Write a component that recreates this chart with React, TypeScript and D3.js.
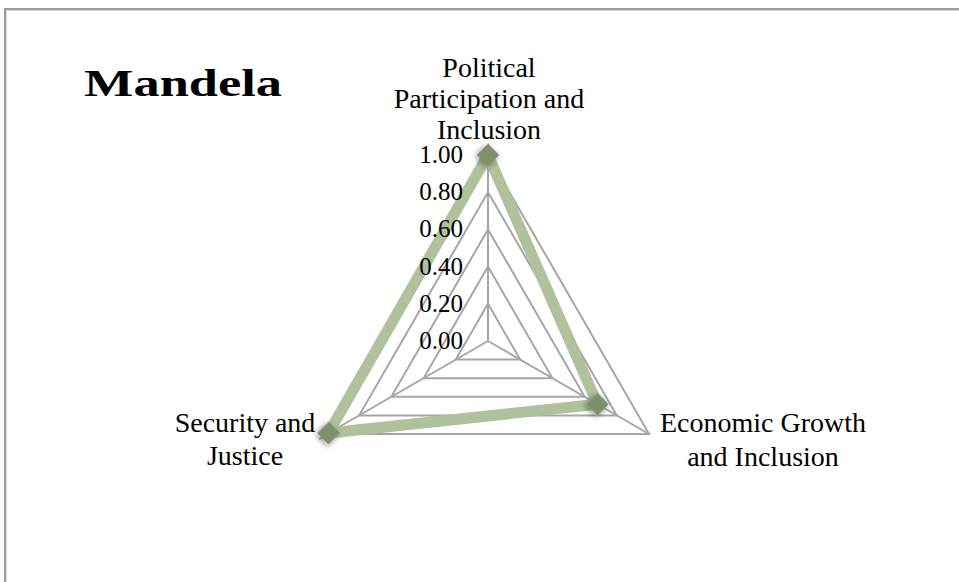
import React from "react";
import * as d3 from "d3";

const categories = ["Political Participation and Inclusion", "Economic Growth and Inclusion", "Security and Justice"];
const categoryLines = [["Political", "Participation and", "Inclusion"], ["Economic Growth", "and Inclusion"], ["Security and", "Justice"]];
const seriesValues = [1.0, 0.68, 0.99];
const tickValues = [0, 0.2, 0.4, 0.6, 0.8, 1.0];
const tickLabels = ["0.00", "0.20", "0.40", "0.60", "0.80", "1.00"];
const title = "Mandela";

const W = 959, H = 582;
const cx = 488, cy = 341;
const FONT = "'Liberation Serif', 'DejaVu Serif', serif";

export default function App() {
  const r = d3.scaleLinear().domain([0, 1]).range([0, 186]);
  const angle = d3.scaleLinear().domain([0, categories.length]).range([-Math.PI / 2, (3 * Math.PI) / 2]);
  const pt = (i: number, v: number): [number, number] => [
    cx + r(v) * Math.cos(angle(i)),
    cy + r(v) * Math.sin(angle(i)),
  ];
  const closed = d3.line().curve(d3.curveLinearClosed);
  const gridPaths = tickValues.slice(1).map((t) => closed(categories.map((_, i) => pt(i, t))) as string);
  const dataPath = closed(seriesValues.map((v, i) => pt(i, v))) as string;

  const labelPos = [
    { x: 489, ys: [77, 108, 139], anchor: "middle" },
    { x: 763, ys: [432, 466], anchor: "middle" },
    { x: 245, ys: [432, 465], anchor: "middle" },
  ];

  return (
    <svg width={W} height={H} style={{ position: "absolute", left: 0, top: 0, background: "#fff" }}>
      <defs>
        <filter id="sh" x="-60%" y="-60%" width="220%" height="220%">
          <feGaussianBlur in="SourceAlpha" stdDeviation="3" />
          <feOffset dx="0" dy="2" result="b" />
          <feComponentTransfer><feFuncA type="linear" slope="0.45" /></feComponentTransfer>
          <feMerge><feMergeNode /><feMergeNode in="SourceGraphic" /></feMerge>
        </filter>
      </defs>
      <rect x={0} y={0} width={W} height={H} fill="#fff" />
      <rect x={5} y={9} width={1000} height={700} fill="none" stroke="#9c9c9c" strokeWidth={2} />
      <rect x={6.5} y={10.5} width={1000} height={700} fill="none" stroke="#d9d9d9" strokeWidth={1} />

      <text x={84} y={96} fontFamily={FONT} fontWeight="bold" fontSize={38} textLength={198} lengthAdjust="spacingAndGlyphs" fill="#000">{title}</text>

      {gridPaths.map((d, k) => (
        <path key={k} d={d} fill="none" stroke="#a6a6a6" strokeWidth={2} />
      ))}
      {categories.map((_, i) => {
        const [x, y] = pt(i, 1);
        return <line key={i} x1={cx} y1={cy} x2={x} y2={y} stroke="#a6a6a6" strokeWidth={2} />;
      })}

      <path d={dataPath} fill="none" stroke="#b0c19d" strokeWidth={11} strokeLinejoin="miter" />
      {seriesValues.map((v, i) => {
        const [x, y] = pt(i, v);
        return (
          <rect key={i} x={x - 8} y={y - 8} width={16} height={16} fill="#7e8f6c" filter="url(#sh)" transform={`rotate(45 ${x} ${y})`} />
        );
      })}

      {tickValues.map((t, k) => (
        <text key={k} x={463} y={cy - r(t) + 8} textAnchor="end" fontFamily={FONT} fontSize={25} fill="#000">{tickLabels[k]}</text>
      ))}

      {categoryLines.map((lines, i) => (
        <text key={i} textAnchor={labelPos[i].anchor as any} fontFamily={FONT} fontSize={28} fill="#000">
          {lines.map((ln, j) => (
            <tspan key={j} x={labelPos[i].x} y={labelPos[i].ys[j]}>{ln}</tspan>
          ))}
        </text>
      ))}
    </svg>
  );
}
